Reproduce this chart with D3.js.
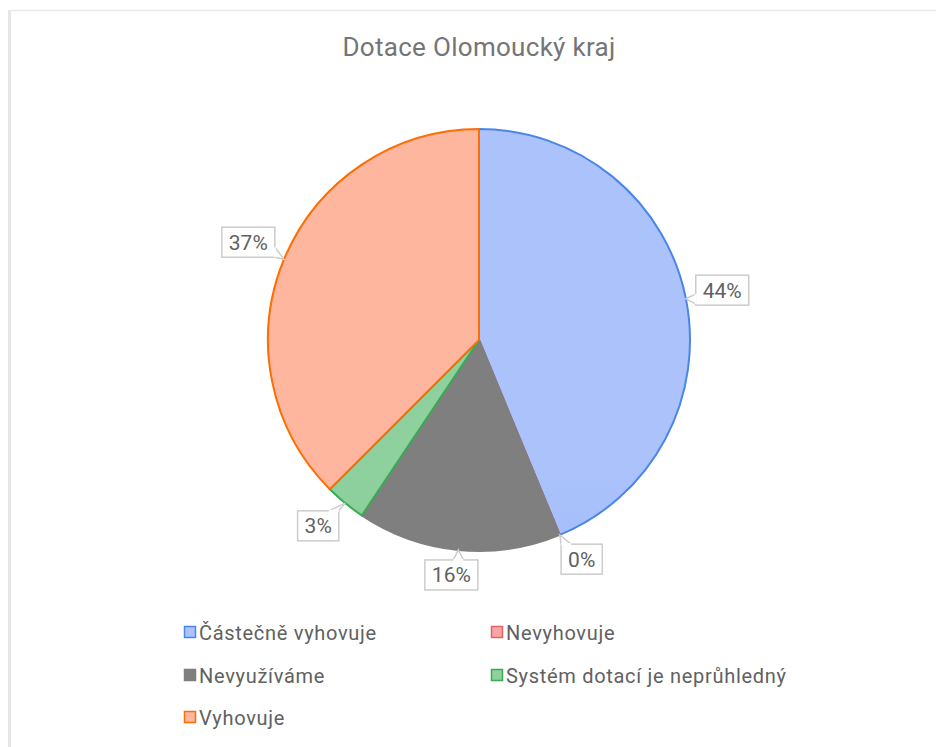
<!DOCTYPE html>
<html>
<head>
<meta charset="utf-8">
<script src="https://cdn.jsdelivr.net/npm/d3@7"></script>
<style>
    html, body { margin: 0; padding: 0; background: #fff; }
    svg { display: block; font-family: Roboto, 'Noto Sans', sans-serif; }
</style>
</head>
<body>
<svg id="chart" width="936" height="747"></svg>
<script>

// Data
const categories = ['Částečně vyhovuje', 'Nevyhovuje', 'Nevyužíváme', 'Systém dotací je neprůhledný', 'Vyhovuje'];
const counts = [14, 0, 5, 1, 12];
const labels = ['44%', '0%', '16%', '3%', '37%'];

const TITLE = 'Dotace Olomoucký kraj';
const COLOR_TOP = ['#abc2fb', '#f8a6a6', '#7f7f7f', '#8fd19e', '#ffb69e'];
const COLOR_BOTTOM = ['#8aaaf9', '#f28888', '#7f7f7f', '#7cc78d', '#ff9d7d'];
const COLOR_STROKE = ['#4a86e8', '#e06666', '#7f7f7f', '#3aaa55', '#ff6d01'];

let d3svg = d3.select('#chart'),
    cx = 479,
    cy = 340,
    radius = 211
;

// Frame
d3svg.append('line').attr('x1', 9).attr('x2', 936).attr('y1', 10.5).attr('y2', 10.5)
    .attr('stroke', '#ebebeb').attr('stroke-width', 1.5);
d3svg.append('line').attr('x1', 9.5).attr('x2', 9.5).attr('y1', 10).attr('y2', 747)
    .attr('stroke', '#e6e6e6').attr('stroke-width', 3);

// Title
d3svg.append('text')
    .attr('x', 479).attr('y', 56)
    .attr('text-anchor', 'middle')
    .attr('font-size', 26)
    .attr('letter-spacing', 0.3)
    .attr('fill', '#757575')
    .text(TITLE);

// Gradients
let defs = d3svg.append('defs');
categories.forEach((c, i) => {
    let g = defs.append('linearGradient')
        .attr('id', 'grad' + i)
        .attr('gradientUnits', 'userSpaceOnUse')
        .attr('x1', 0).attr('x2', 0)
        .attr('y1', cy - radius).attr('y2', cy + radius);
    g.append('stop').attr('offset', '0%').attr('stop-color', COLOR_TOP[i]);
    g.append('stop').attr('offset', '100%').attr('stop-color', COLOR_BOTTOM[i]);
});

// Pie
let pie = d3.pie().sort(null).value((d) => d),
    arcs = pie(counts),
    arc = d3.arc().innerRadius(0).outerRadius(radius);

let gPie = d3svg.append('g').attr('transform', 'translate(' + cx + ',' + cy + ')');
gPie.selectAll('path')
    .data(arcs)
    .enter().append('path')
    .attr('d', arc)
    .attr('fill', (d, i) => 'url(#grad' + i + ')')
    .attr('stroke', (d, i) => COLOR_STROKE[i])
    .attr('stroke-width', 2)
    .attr('stroke-linejoin', 'round');

// Callout labels
let clamp = (v) => Math.max(-1, Math.min(1, v));
let gLabels = d3svg.append('g');
arcs.forEach((a, i) => {
    let mid = (a.startAngle + a.endAngle) / 2,
        sx = Math.sin(mid),
        sy = -Math.cos(mid),
        tipX = cx + radius * sx,
        tipY = cy + radius * sy;

    let text = gLabels.append('text')
        .attr('font-size', 21)
        .attr('fill', '#616161')
        .attr('text-anchor', 'middle')
        .text(labels[i]);
    let tw = text.node().getComputedTextLength(),
        halfW = tw / 2 + 7,
        halfH = 15;
    // anchor just outside the arc, box pushed away from it
    let ax = tipX + sx * 10,
        ay = tipY + sy * 10,
        bx = ax + clamp(sx * 2.3) * halfW,
        by = ay + clamp(sy * 2.3) * halfH;
    let x0 = bx - halfW, x1 = bx + halfW, y0 = by - halfH, y1 = by + halfH;

    // nearest point on box border to the tip
    let px = Math.max(x0, Math.min(x1, tipX)),
        py = Math.max(y0, Math.min(y1, tipY)),
        base;
    let dxOut = Math.max(x0 - tipX, tipX - x1, 0),
        dyOut = Math.max(y0 - tipY, tipY - y1, 0);
    if (dxOut >= dyOut) {
        let yy = Math.max(y0 + 5, Math.min(y1 - 5, py));
        base = [[px, yy - 5], [px, yy + 5]];
    } else {
        let xx = Math.max(x0 + 5, Math.min(x1 - 5, px));
        base = [[xx - 5, py], [xx + 5, py]];
    }

    gLabels.insert('rect', 'text')
        .attr('x', x0).attr('y', y0)
        .attr('width', x1 - x0).attr('height', y1 - y0)
        .attr('fill', '#fff')
        .attr('stroke', '#cccccc')
        .attr('stroke-width', 1.5);
    gLabels.insert('path', 'text')
        .attr('d', 'M' + base[0] + 'L' + tipX + ',' + tipY + 'L' + base[1] + 'Z')
        .attr('fill', '#fff')
        .attr('stroke', 'none');
    gLabels.insert('path', 'text')
        .attr('d', 'M' + base[0] + 'L' + tipX + ',' + tipY + 'L' + base[1])
        .attr('fill', 'none')
        .attr('stroke', '#cccccc')
        .attr('stroke-width', 1.5);
    gLabels.insert('line', 'text')
        .attr('x1', base[0][0]).attr('y1', base[0][1])
        .attr('x2', base[1][0]).attr('y2', base[1][1])
        .attr('stroke', '#fff')
        .attr('stroke-width', 2);

    text.attr('x', bx).attr('y', by + 7.5);
});

// Legend
let legendX = [184, 491],
    legendY = [632, 675, 717];
let gLegend = d3svg.append('g');
categories.forEach((c, i) => {
    let x = legendX[i % 2],
        y = legendY[Math.floor(i / 2)];
    gLegend.append('rect')
        .attr('x', x + 0.5).attr('y', y - 5.5)
        .attr('width', 11).attr('height', 11)
        .attr('fill', COLOR_TOP[i])
        .attr('stroke', COLOR_STROKE[i])
        .attr('stroke-width', 1.5);
    gLegend.append('text')
        .attr('x', x + 15).attr('y', y + 7.5)
        .attr('font-size', 20)
        .attr('letter-spacing', 0.7)
        .attr('fill', '#616161')
        .text(c);
});

</script>
</body>
</html>
